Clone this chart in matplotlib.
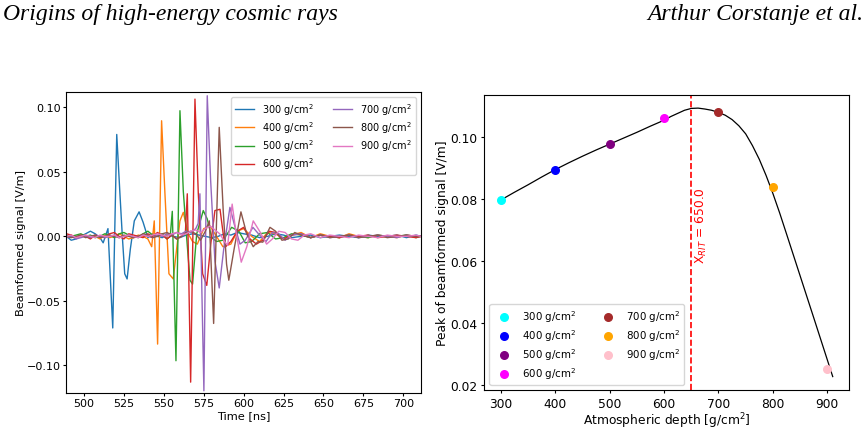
import matplotlib
matplotlib.use("Agg")
import matplotlib.pyplot as plt

# ---- left panel: beamformed traces ----
depths = [300, 400, 500, 600, 700, 800, 900]
labels = [f"{d} g/cm$^2$" for d in depths]

t300 = [489, 492, 495, 498, 501, 504, 507, 510, 512, 515, 518, 520.5, 522.5, 524, 525.5, 527, 529,
        531.5, 534.5, 537, 540, 543, 546, 549, 552, 556, 560, 564, 568, 572, 576, 580, 584, 588, 592,
        596, 600, 605, 610, 615, 620, 625, 630, 636, 642, 648, 654, 660, 666, 672, 678, 684, 690, 696,
        702, 708, 711]
v300 = [0.000, -0.003, -0.002, 0.000, 0.002, 0.004, 0.002, -0.001, -0.005, 0.006, -0.071, 0.079, 0.033,
        0.000, -0.029, -0.033, -0.010, 0.012, 0.019, 0.011, -0.001, 0.002, 0.000, -0.001, 0.001, 0.000,
        -0.001, 0.001, 0.002, 0.001, 0.000, -0.001, 0.000, 0.002, 0.001, 0.003, 0.002, 0.001, -0.001,
        0.000, 0.002, 0.001, -0.001, 0.000, 0.001, -0.001, 0.000, 0.001, 0.000, -0.001, 0.001, 0.000,
        0.000, 0.001, -0.001, 0.001, 0.000]

t400 = [489, 492, 495, 498, 501, 504, 507, 510, 513, 516, 519, 522, 525, 528, 531, 534, 537, 540, 542.4,
        544, 546.1, 548.6, 550.7, 553.2, 555.9, 558, 560.1, 562.2, 565.3, 568, 571, 575, 579, 583, 587,
        592, 596, 600, 605, 610, 615, 620, 625, 630, 636, 642, 648, 654, 660, 666, 672, 678, 684, 690,
        696, 702, 708, 711]
v400 = [0.000, 0.001, -0.001, 0.000, 0.001, -0.001, 0.000, -0.002, 0.001, -0.001, 0.000, 0.002, 0.000,
        -0.002, -0.001, 0.001, 0.000, -0.002, -0.008, 0.012, -0.0835, 0.0896, 0.033, -0.029, -0.033,
        -0.010, 0.012, 0.0186, 0.002, -0.004, -0.006, 0.006, 0.008, 0.000, -0.008, -0.006, 0.004, 0.006,
        0.000, -0.004, 0.003, 0.002, -0.002, 0.001, 0.003, -0.001, 0.002, 0.000, -0.001, 0.002, 0.000,
        -0.001, 0.001, 0.000, -0.001, 0.001, 0.000, 0.000]

t500 = [489, 492, 495, 498, 501, 504, 507, 510, 513, 516, 519, 522, 525, 528, 531, 534, 537, 540, 543,
        546, 549, 552, 554, 555.3, 557.6, 560.1, 562.2, 564.3, 566.4, 568, 570.6, 574.7, 577.2, 580, 583,
        587, 592.5, 597, 601, 605, 610, 615, 620, 625, 630, 636, 642, 648, 654, 660, 666, 672, 678, 684,
        690, 696, 702, 708, 711]
v500 = [0.001, 0.000, 0.001, 0.002, 0.000, 0.001, -0.001, 0.000, 0.002, 0.001, -0.001, 0.002, 0.003,
        0.001, 0.000, -0.001, 0.002, 0.004, 0.001, 0.000, 0.002, -0.002, 0.000, 0.0194, -0.0964, 0.0974,
        0.035, -0.001, -0.034, -0.037, 0.002, 0.020, 0.0135, -0.001, -0.004, -0.003, 0.007, 0.004,
        -0.005, -0.004, 0.002, 0.003, -0.002, -0.001, 0.002, 0.001, -0.001, 0.001, 0.000, -0.001, 0.001,
        0.000, -0.001, 0.001, 0.000, 0.000, 0.001, -0.001, 0.000]

t600 = [489, 492, 495, 498, 501, 504, 507, 510, 513, 516, 519, 522, 525, 528, 531, 534, 537, 540, 543,
        546, 549, 552, 555, 558, 561, 563.5, 564.7, 566.8, 569.5, 571.6, 574.3, 576.9, 579.5, 582, 585.2,
        588.3, 592, 596, 600, 604, 608, 612, 616, 620, 625, 630, 636, 642, 648, 654, 660, 666, 672, 678,
        684, 690, 696, 702, 708, 711]
v600 = [0.002, 0.001, -0.001, 0.001, 0.000, -0.002, 0.001, 0.000, -0.001, 0.002, 0.003, 0.000, -0.002,
        0.002, 0.001, 0.000, -0.001, 0.002, 0.000, 0.003, 0.001, -0.002, 0.001, -0.002, 0.000, 0.003,
        0.033, -0.113, 0.1064, 0.033, -0.029, -0.038, -0.005, 0.020, 0.021, -0.0085, -0.004, 0.004,
        0.007, -0.002, -0.006, -0.003, 0.004, 0.003, -0.002, 0.001, 0.002, -0.001, 0.001, 0.000, -0.001,
        0.001, 0.000, 0.001, -0.001, 0.000, 0.001, 0.000, -0.001, 0.000]

t700 = [489, 492, 495, 498, 501, 504, 507, 510, 513, 516, 519, 522, 525, 528, 531, 534, 537, 540, 543,
        546, 549, 552, 555, 558, 561, 564, 567, 570, 571.5, 572.6, 575.1, 577.2, 579.3, 582, 584.7, 587.5,
        591.4, 594, 597.7, 601, 605.8, 610, 614, 618, 622, 626, 630, 636, 642, 648, 654, 660, 666, 672,
        678, 684, 690, 696, 702, 708, 711]
v700 = [-0.001, 0.000, -0.002, -0.001, 0.000, -0.001, 0.001, 0.000, -0.001, 0.000, 0.001, -0.001, 0.000,
        0.001, -0.001, 0.000, 0.001, 0.000, -0.001, 0.001, 0.000, 0.002, 0.001, 0.003, 0.002, 0.004,
        0.003, 0.006, 0.010, 0.033, -0.1197, 0.109, 0.044, -0.019, -0.040, -0.010, 0.0225, 0.010, -0.006,
        -0.003, 0.007, 0.001, -0.004, 0.003, 0.002, -0.003, 0.001, 0.002, -0.001, 0.001, -0.001, 0.000,
        0.001, -0.001, 0.000, 0.001, 0.000, -0.001, 0.001, 0.000, 0.000]

t800 = [489, 492, 495, 498, 501, 504, 507, 510, 513, 516, 519, 522, 525, 528, 531, 534, 537, 540, 543,
        546, 549, 552, 555, 558, 561, 564, 567, 570, 573, 576, 578.5, 581.2, 584.7, 587.2, 589.3, 590.7,
        594, 598.3, 601.9, 606, 609, 612, 616.5, 620, 624, 628, 632, 636, 642, 648, 654, 660, 666, 672,
        678, 684, 690, 696, 702, 708, 711]
v800 = [0.000, -0.001, 0.000, 0.001, -0.001, 0.000, 0.001, -0.001, 0.000, 0.001, 0.000, -0.001, 0.001,
        0.000, -0.001, 0.000, 0.002, 0.001, -0.001, 0.000, 0.002, 0.003, 0.001, -0.002, 0.000, 0.003,
        0.004, 0.002, -0.003, 0.004, 0.012, -0.0675, 0.0845, 0.020, -0.0215, -0.034, -0.010, 0.019,
        0.002, -0.008, -0.004, -0.0045, 0.007, 0.004, -0.003, -0.002, 0.003, 0.001, -0.001, 0.001,
        -0.001, 0.000, 0.001, -0.001, 0.000, 0.001, -0.001, 0.000, 0.001, 0.000, 0.000]

t900 = [489, 492, 495, 498, 501, 504, 507, 510, 513, 516, 519, 522, 525, 528, 531, 534, 537, 540, 543,
        546, 549, 552, 555, 558, 561, 564, 567, 570, 573, 576, 579, 582, 585, 588, 590, 592.8, 595, 598.5,
        602, 606, 610, 614.4, 618, 622, 626, 630, 634, 638, 642, 648, 654, 660, 666, 672, 678, 684, 690,
        696, 702, 708, 711]
v900 = [0.000, 0.001, -0.001, 0.000, 0.001, 0.000, -0.001, 0.001, 0.000, 0.000, 0.001, -0.001, 0.000,
        0.001, 0.000, -0.001, 0.001, 0.000, 0.001, 0.002, 0.001, 0.000, 0.002, 0.003, 0.001, 0.002,
        0.004, 0.005, 0.003, 0.006, 0.008, 0.005, 0.002, -0.004, -0.007, 0.025, 0.005, -0.020, -0.008,
        0.012, 0.004, -0.006, -0.002, 0.004, 0.003, -0.002, -0.003, 0.001, 0.002, -0.001, 0.001, 0.000,
        -0.001, 0.001, 0.000, -0.001, 0.001, 0.000, 0.000, 0.001, 0.000]

times = [t300, t400, t500, t600, t700, t800, t900]
traces = [v300, v400, v500, v600, v700, v800, v900]

# ---- right panel: peak amplitude vs depth, plus fitted curve ----
peak_vals = [0.0797, 0.0894, 0.0977, 0.1062, 0.1082, 0.0838, 0.0251]
peak_colors = ["cyan", "blue", "purple", "magenta", "brown", "orange", "pink"]
fit_x = [300, 325, 350, 375, 400, 425, 450, 475, 500, 525, 550, 575, 600, 612.5, 625, 637.5, 650,
         662.5, 675, 687.5, 700, 712.5, 725, 737.5, 750, 762.5, 775, 787.5, 800, 812.5, 825, 850,
         875, 910]
fit_y = [0.0797, 0.0822, 0.0846, 0.0871, 0.0895, 0.0917, 0.0938, 0.0958, 0.0977, 0.0996, 0.1015,
         0.1035, 0.1054, 0.1066, 0.1076, 0.1086, 0.1092, 0.1093, 0.1090, 0.1086, 0.1079, 0.1070,
         0.1056, 0.1036, 0.1010, 0.0972, 0.0928, 0.0876, 0.0818, 0.0755, 0.0688, 0.0553, 0.0418,
         0.0228]
x_rit = 650.0

fig = plt.figure(figsize=(8.67, 4.31), dpi=100)

fig.text(0.004, 0.953, "Origins of high-energy cosmic rays", family="Liberation Serif",
         style="italic", fontsize=17, va="baseline", ha="left")
fig.text(0.996, 0.953, "Arthur Corstanje et al.", family="Liberation Serif",
         style="italic", fontsize=17, va="baseline", ha="right")

ax1 = fig.add_axes([0.0761, 0.0865, 0.4091, 0.6977])
for t, v, lab in zip(times, traces, labels):
    ax1.plot(t, v, lw=1.0, label=lab)
ax1.set_xlim(488.7, 710.9)
ax1.set_ylim(-0.1212, 0.1119)
ax1.set_xticks(range(500, 701, 25))
ax1.set_yticks([-0.10, -0.05, 0.0, 0.05, 0.10])
ax1.tick_params(labelsize=8, length=2, pad=1.5)
ax1.set_xlabel("Time [ns]", fontsize=8.2, labelpad=1.5)
ax1.set_ylabel("Beamformed signal [V/m]", fontsize=8.2, labelpad=1)
ax1.legend(loc="upper right", ncol=2, fontsize=7, labelspacing=0.25)

ax2 = fig.add_axes([0.5586, 0.0928, 0.4210, 0.6852])
ax2.plot(fit_x, fit_y, color="black", lw=0.9)
for d, p, c, lab in zip(depths, peak_vals, peak_colors, labels):
    ax2.scatter(d, p, color=c, s=30, label=lab, zorder=3)
ax2.axvline(x_rit, color="red", ls="--", lw=1.2)
ax2.text(x_rit + 5, 0.0595, "X$_{RIT}$ = " + str(x_rit), rotation=90, color="red",
         fontsize=8.8, ha="left", va="bottom")
ax2.set_xticks(range(300, 901, 100))
ax2.tick_params(labelsize=8.8, length=2.5, pad=2.2)
ax2.set_xlabel("Atmospheric depth [g/cm$^2$]", fontsize=8.8, labelpad=0.5)
ax2.set_ylabel("Peak of beamformed signal [V/m]", fontsize=8.8, labelpad=1)
ax2.legend(loc="lower left", ncol=2, fontsize=7.4, labelspacing=0.3)

fig.savefig("out.png", dpi=100)
